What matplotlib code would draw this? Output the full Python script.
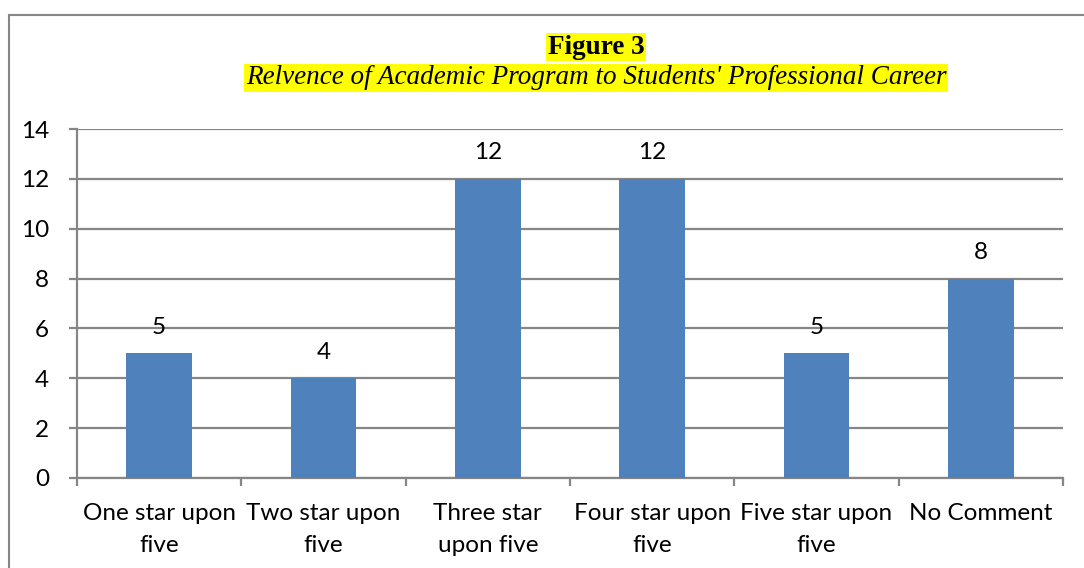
import numpy as np
import matplotlib.pyplot as plt
from matplotlib.patches import Rectangle

categories = ["One star upon\nfive", "Two star upon\nfive", "Three star\nupon five",
              "Four star upon\nfive", "Five star upon\nfive", "No Comment"]
counts = [5, 4, 12, 12, 5, 8]
yticks = [0, 2, 4, 6, 8, 10, 12, 14]

W, H = 1084, 568
fig = plt.figure(figsize=(W / 100, H / 100), dpi=100)
ax = fig.add_axes([77 / W, 1 - 478 / H, (1063 - 77) / W, (478 - 129) / H])

grey = "#868686"
fs = 17.5
x = np.arange(len(categories))
bars = ax.bar(x, counts, width=0.4, color="#4F81BD", zorder=3)
for b, v in zip(bars, counts):
    ax.text(b.get_x() + b.get_width() / 2, v + 1.04, str(v), ha="center", va="center",
            fontsize=fs, family="Lato")

ax.set_xlim(-0.5, len(categories) - 0.5)
ax.set_ylim(0, 14)
ax.set_yticks(yticks)
ax.set_yticklabels([str(t) for t in yticks], fontsize=fs, family="Lato")
ax.yaxis.grid(True, color=grey, linewidth=1.6, zorder=0)
ax.set_xticks(x)
ax.set_xticklabels(categories, fontsize=fs, family="Lato", linespacing=1.65)
ax.set_xticks(np.arange(len(categories) + 1) - 0.5, minor=True)
ax.tick_params(axis="x", which="major", length=0, pad=18)
ax.tick_params(axis="x", which="minor", length=6, width=1.6, color=grey)
ax.tick_params(axis="y", length=6, width=1.6, color=grey, pad=14)
for s in ["top", "right"]:
    ax.spines[s].set_visible(False)
ax.spines["left"].set_color(grey)
ax.spines["left"].set_linewidth(1.6)
ax.spines["bottom"].set_color(grey)
ax.spines["bottom"].set_linewidth(1.6)

fig.text(596 / W, 1 - 47 / H, "Figure 3", ha="center", va="center", fontsize=19.5,
         fontweight="bold", family="Liberation Serif",
         bbox=dict(facecolor="yellow", edgecolor="none", pad=1))
fig.text(596 / W, 1 - 78 / H, "Relvence of Academic Program to Students' Professional Career",
         ha="center", va="center", fontsize=19.5, style="italic", family="Liberation Serif",
         bbox=dict(facecolor="yellow", edgecolor="none", pad=1))

fig.patches.append(Rectangle((8.5 / W, -0.1), 1.2, 1 - 15.5 / H + 0.1, transform=fig.transFigure,
                             fill=False, edgecolor=grey, linewidth=1.5))

fig.savefig("out.png", dpi=100)
